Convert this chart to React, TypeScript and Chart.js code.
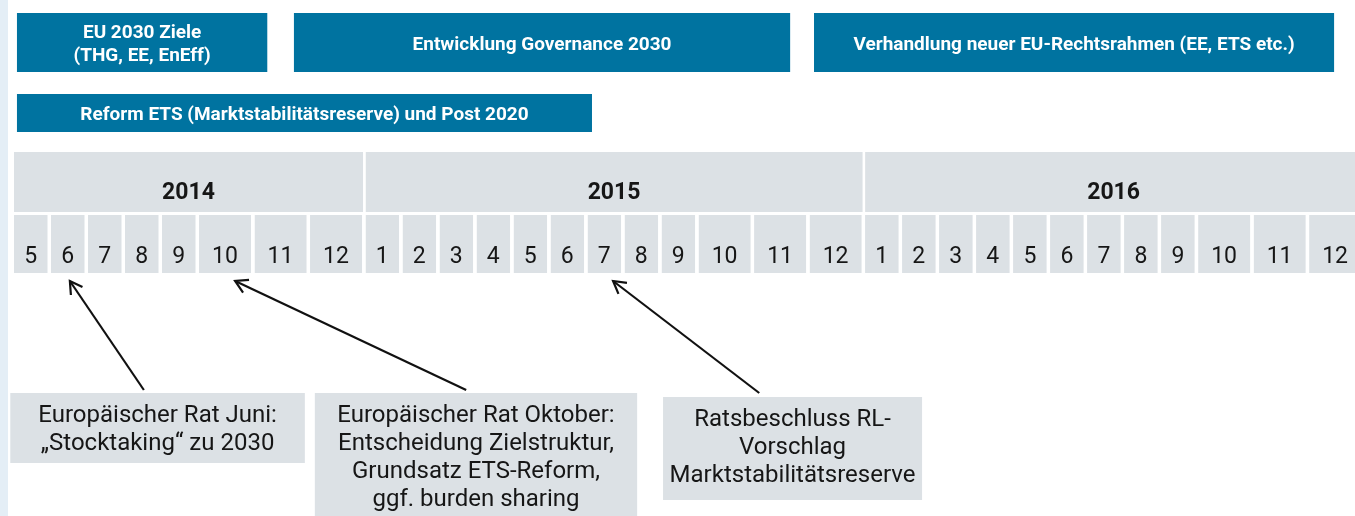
import { useEffect, useRef } from "react";
import { Chart, registerables } from "chart.js";

Chart.register(...registerables);

// ---------------- DATA ----------------
const years = [2014, 2015, 2016];
const yearMonths = [
  [5, 6, 7, 8, 9, 10, 11, 12],
  [1, 2, 3, 4, 5, 6, 7, 8, 9, 10, 11, 12],
  [1, 2, 3, 4, 5, 6, 7, 8, 9, 10, 11, 12],
];

const phaseLabels = [
  ["EU 2030 Ziele", "(THG, EE, EnEff)"],
  ["Entwicklung Governance 2030"],
  ["Verhandlung neuer EU-Rechtsrahmen (EE, ETS etc.)"],
  ["Reform ETS (Marktstabilitätsreserve) und Post 2020"],
];
const phaseStartYear = [2014, 2014, 2015, 2014];
const phaseStartMonth = [5.08, 11.71, 12.08, 5.08];
const phaseEndYear = [2014, 2015, 2016, 2015];
const phaseEndMonth = [11.23, 11.65, 12.45, 7.12];
const phaseTrack = [0, 0, 0, 1];

const eventLabels = [
  ["Europäischer Rat Juni:", "„Stocktaking“ zu 2030"],
  [
    "Europäischer Rat Oktober:",
    "Entscheidung Zielstruktur,",
    "Grundsatz ETS-Reform,",
    "ggf. burden sharing",
  ],
  ["Ratsbeschluss RL-", "Vorschlag", "Marktstabilitätsreserve"],
];
const eventYear = [2014, 2014, 2015];
const eventMonth = [6.51, 10.65, 7.69];

// ---------------- LAYOUT / STYLE ----------------
const W = 1355;
const H = 516;
const PLOT_LEFT = 14;
const X_MAX = 36.24;
const WIDE_MONTH = 1.5; // two-digit months get wider cells
const BLUE = "#0073a0";
const GREY = "#dce1e5";
const STRIP = "#e4eef6";
const TEXT = "#161616";
const FONT = "Roboto, 'Open Sans', sans-serif";

const ROWS = {
  track0: { center: 42.5, thickness: 59 },
  track1: { center: 113, thickness: 38 },
  year: { center: 182, thickness: 60 },
  month: { center: 244, thickness: 58 },
};

const CALLOUTS = [
  { left: -0.1, right: 7.86, top: 393, height: 70, tailX: 3.51, tailY: 390 },
  { left: 8.13, right: 16.84, top: 393, height: 130, tailX: 12.22, tailY: 390 },
  { left: 17.54, right: 24.54, top: 397, height: 103, tailX: 20.14, tailY: 393 },
];
const ARROW_TIP_Y = 281;

// ---------------- HELPERS ----------------
type Slot = { year: number; month: number; start: number; end: number };
const slots: Slot[] = [];
{
  let cursor = 0;
  years.forEach((y, yi) => {
    yearMonths[yi].forEach((m) => {
      const w = m >= 10 ? WIDE_MONTH : 1;
      slots.push({ year: y, month: m, start: cursor, end: cursor + w });
      cursor += w;
    });
  });
}

function timePos(year: number, month: number) {
  const m = Math.floor(month);
  const f = month - m;
  const s = slots.find((s) => s.year === year && s.month === m)!;
  return s.start + f * (s.end - s.start);
}

const yearData = years.map((y) => {
  const ss = slots.filter((s) => s.year === y);
  return { x: [ss[0].start, ss[ss.length - 1].end], y: ROWS.year.center, lines: [String(y)] };
});
const monthData = slots.map((s) => ({
  x: [s.start, s.end],
  y: ROWS.month.center,
  lines: [String(s.month)],
}));
const phaseData = (track: number) =>
  phaseLabels
    .map((lines, i) => ({
      x: [timePos(phaseStartYear[i], phaseStartMonth[i]), timePos(phaseEndYear[i], phaseEndMonth[i])],
      y: track === 0 ? ROWS.track0.center : ROWS.track1.center,
      lines,
      track: phaseTrack[i],
    }))
    .filter((d) => d.track === track);

const timelinePlugin = {
  id: "timeline",
  beforeDraw(chart: any) {
    const ctx = chart.ctx;
    ctx.save();
    ctx.fillStyle = "#ffffff";
    ctx.fillRect(0, 0, chart.width, chart.height);
    ctx.fillStyle = STRIP;
    ctx.fillRect(0, 0, 8, chart.height);
    ctx.restore();
  },
  afterDatasetsDraw(chart: any) {
    const ctx = chart.ctx;
    const xs = chart.scales.x;
    const ys = chart.scales.y;
    ctx.save();
    // labels inside bars
    chart.data.datasets.forEach((ds: any, di: number) => {
      const meta = chart.getDatasetMeta(di);
      ctx.font = ds.textFont;
      ctx.fillStyle = ds.textColor;
      ctx.textAlign = "center";
      ctx.textBaseline = "alphabetic";
      meta.data.forEach((el: any, j: number) => {
        const p = el.getProps(["x", "base", "y"], true);
        const gap = ds.gap || 0;
        const cx = (Math.min(p.x, p.base) + Math.max(p.x, p.base) - gap) / 2;
        const lines: string[] = ds.data[j].lines;
        const n = lines.length;
        lines.forEach((t, k) => {
          const cy = p.y + ds.textShift + (k - (n - 1) / 2) * ds.lineHeight;
          ctx.fillText(t, cx, cy + ds.capHalf);
        });
      });
    });
    // callouts + arrows
    CALLOUTS.forEach((c, i) => {
      const left = xs.getPixelForValue(c.left);
      const right = xs.getPixelForValue(c.right);
      const top = ys.getPixelForValue(c.top);
      const bottom = ys.getPixelForValue(c.top + c.height);
      ctx.fillStyle = GREY;
      ctx.fillRect(left, top, right - left, bottom - top);
      ctx.fillStyle = TEXT;
      ctx.font = `24px ${FONT}`;
      ctx.textAlign = "center";
      ctx.textBaseline = "alphabetic";
      const cx = (left + right) / 2;
      eventLabels[i].forEach((t, k) => {
        ctx.fillText(t, cx, top + 29 + k * 28);
      });

      const tipX = xs.getPixelForValue(timePos(eventYear[i], eventMonth[i]));
      const tipY = ys.getPixelForValue(ARROW_TIP_Y);
      const tailX = xs.getPixelForValue(c.tailX);
      const tailY = ys.getPixelForValue(c.tailY);
      ctx.strokeStyle = "#111111";
      ctx.lineWidth = 2.2;
      ctx.lineCap = "butt";
      ctx.lineJoin = "miter";
      ctx.beginPath();
      ctx.moveTo(tailX, tailY);
      ctx.lineTo(tipX, tipY);
      ctx.stroke();
      const a = Math.atan2(tipY - tailY, tipX - tailX);
      const L = 14;
      const th = (30 * Math.PI) / 180;
      ctx.beginPath();
      ctx.moveTo(tipX - L * Math.cos(a - th), tipY - L * Math.sin(a - th));
      ctx.lineTo(tipX, tipY);
      ctx.lineTo(tipX - L * Math.cos(a + th), tipY - L * Math.sin(a + th));
      ctx.stroke();
    });
    ctx.restore();
  },
};

export default function App() {
  const ref = useRef<HTMLCanvasElement | null>(null);
  useEffect(() => {
    document.body.style.margin = "0";
    const canvas = ref.current;
    if (!canvas) return;
    const common = {
      grouped: false,
      clip: false,
      inflateAmount: 0,
      borderSkipped: false,
      borderColor: "rgba(0,0,0,0)",
    };
    const chart = new Chart(canvas, {
      type: "bar",
      data: {
        datasets: [
          {
            ...common,
            label: "Phasen",
            data: phaseData(0),
            backgroundColor: BLUE,
            barThickness: ROWS.track0.thickness,
            borderWidth: 0,
            textFont: `bold 19px ${FONT}`,
            textColor: "#ffffff",
            textShift: 0,
            lineHeight: 23,
            capHalf: 7,
          },
          {
            ...common,
            label: "Reform ETS",
            data: phaseData(1),
            backgroundColor: BLUE,
            barThickness: ROWS.track1.thickness,
            borderWidth: 0,
            textFont: `bold 19px ${FONT}`,
            textColor: "#ffffff",
            textShift: 0,
            lineHeight: 23,
            capHalf: 7,
          },
          {
            ...common,
            label: "Jahre",
            data: yearData,
            backgroundColor: GREY,
            barThickness: ROWS.year.thickness,
            borderWidth: { top: 0, right: 2.5, bottom: 0, left: 0 },
            gap: 2.5,
            textFont: `bold 23px ${FONT}`,
            textColor: TEXT,
            textShift: 9,
            lineHeight: 24,
            capHalf: 8,
          },
          {
            ...common,
            label: "Monate",
            data: monthData,
            backgroundColor: GREY,
            barThickness: ROWS.month.thickness,
            borderWidth: { top: 0, right: 3.5, bottom: 0, left: 0 },
            gap: 3.5,
            textFont: `23px ${FONT}`,
            textColor: TEXT,
            textShift: 11,
            lineHeight: 24,
            capHalf: 8,
          },
        ] as any,
      },
      options: {
        indexAxis: "y",
        animation: false,
        responsive: false,
        devicePixelRatio: 1,
        events: [],
        layout: { padding: { left: PLOT_LEFT, right: 0, top: 0, bottom: 0 } },
        scales: {
          x: { type: "linear", min: 0, max: X_MAX, display: false, offset: false },
          y: { type: "linear", min: 0, max: H, reverse: true, display: false, offset: false },
        },
        plugins: {
          legend: { display: false },
          tooltip: { enabled: false },
        },
      } as any,
      plugins: [timelinePlugin],
    });
    return () => chart.destroy();
  }, []);
  return (
    <div style={{ width: W, height: H, position: "relative", overflow: "hidden" }}>
      <canvas ref={ref} width={W} height={H} style={{ display: "block" }} />
    </div>
  );
}
